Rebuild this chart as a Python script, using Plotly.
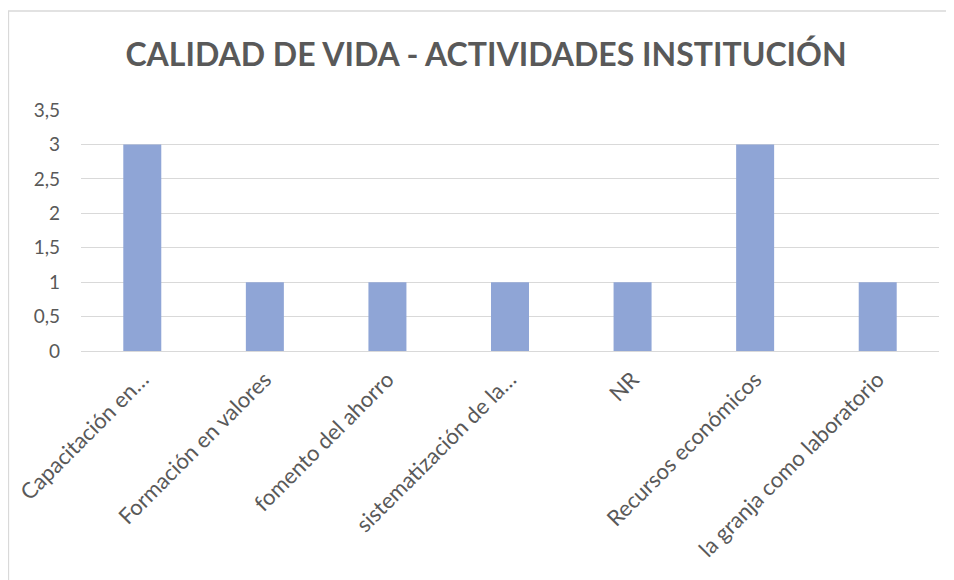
import plotly.graph_objects as go

categories = ["Capacitación en…", "Formación en valores", "fomento del ahorro",
              "sistematización de la…", "NR", "Recursos económicos",
              "la granja como laboratorio"]
values = [3, 1, 1, 1, 1, 3, 1]
y_ticks = [0, 0.5, 1, 1.5, 2, 2.5, 3, 3.5]
y_tick_labels = ["0", "0,5", "1", "1,5", "2", "2,5", "3", "3,5"]

# page body has an 8px margin, so the figure is placed at (8, 8)
OFF = 8
W, H = 954 - OFF, 580 - OFF
L, R, T, B = 81 - OFF, 954 - 939, 110 - OFF, 580 - 351
pw, ph = W - L - R, H - T - B

fig = go.Figure(go.Bar(x=categories, y=values, marker=dict(color="#8FA5D6", line=dict(width=0)), width=0.31))

fig.update_layout(
    width=W, height=H,
    margin=dict(l=L, r=R, t=T, b=B, pad=0, autoexpand=False),
    paper_bgcolor="white", plot_bgcolor="white",
    title=dict(text="<b>CALIDAD DE VIDA - ACTIVIDADES INSTITUCIÓN</b>",
               x=(486 - 81) / pw, xref="paper", xanchor="center",
               y=1 - (55 - OFF) / H, yanchor="middle",
               font=dict(family="Lato, sans-serif", size=32, color="#595959")),
    font=dict(family="Lato, sans-serif", size=19, color="#595959"),
    showlegend=False,
    xaxis=dict(tickangle=-45, showgrid=False, showline=True, linecolor="#d9d9d9", linewidth=1,
               ticks="", automargin=False, ticklabelstandoff=6,
               tickfont=dict(size=22, color="#595959")),
    yaxis=dict(range=[0, 3.5], tickvals=y_ticks, ticktext=y_tick_labels, showgrid=True,
               gridcolor="#d9d9d9", gridwidth=1, zeroline=False, showline=False, ticks="",
               automargin=False, ticklabelstandoff=20, tickfont=dict(size=19, color="#595959")),
    shapes=[dict(type="rect", xref="paper", yref="paper",
                 x0=(0.5 - L) / pw, x1=(W + 20 - L) / pw,
                 y0=-2.0, y1=(H - B - (11 - OFF)) / ph,
                 line=dict(color="#d9d9d9", width=1.3), fillcolor="rgba(0,0,0,0)", layer="below")],
)

fig.write_html("out.html")
